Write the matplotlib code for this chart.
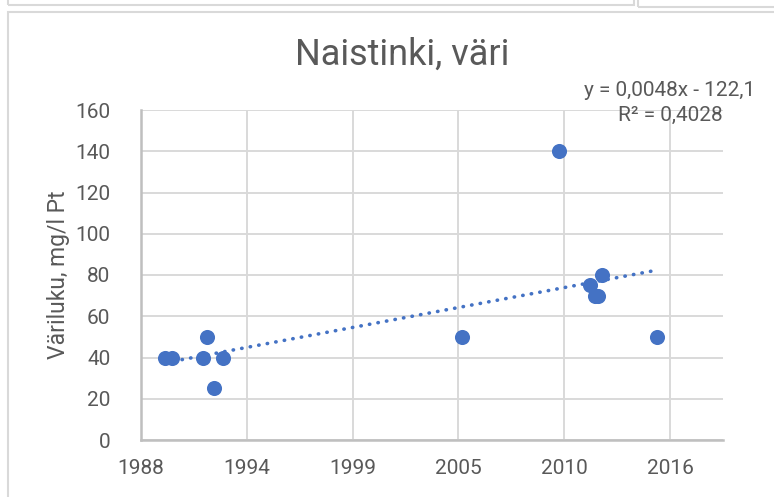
import numpy as np
import pandas as pd
import matplotlib
matplotlib.use("Agg")
import matplotlib.pyplot as plt
import matplotlib.dates as mdates
from matplotlib.patches import Rectangle

plt.rcParams['font.family'] = ['Roboto', 'DejaVu Sans']

# sample dates and colour values (mg/l Pt)
sample_dates = ['1990-03-22', '1990-07-26', '1992-03-03', '1992-05-18', '1992-10-09',
                '1993-03-28', '2005-08-10', '2010-08-16', '2012-03-20', '2012-06-20',
                '2012-08-19', '2012-11-07', '2015-09-13']
colour_values = [40, 40, 40, 50, 25, 40, 50, 140, 75, 70, 70, 80, 50]

y_ticks = [0, 20, 40, 60, 80, 100, 120, 140, 160]
equation_text = 'y = 0,0048x - 122,1'
r2_text = 'R² = 0,4028'

blue = '#4472C4'
grid_col = '#D9D9D9'
text_col = '#595959'

excel_zero = pd.Timestamp('1899-12-30')
dates = pd.to_datetime(sample_dates)
serial = np.array([(d - excel_zero).days for d in dates], dtype=float)
xnum = mdates.date2num(dates)

fig = plt.figure(figsize=(7.74, 4.97), dpi=100)

# chart frame and neighbouring chart edges (Excel screenshot look)
fig.patches.append(Rectangle((8 / 774, -0.1), 1.0, 1 - 12 / 497 + 0.1, transform=fig.transFigure,
                             fill=False, edgecolor=grid_col, linewidth=1.5))
fig.patches.append(Rectangle((8 / 774, 1 - 5 / 497), (634 - 8) / 774, 0.1, transform=fig.transFigure,
                             fill=False, edgecolor=grid_col, linewidth=1.5))
fig.patches.append(Rectangle((638 / 774, 1 - 7 / 497), 0.3, 0.1, transform=fig.transFigure,
                             fill=False, edgecolor=grid_col, linewidth=1.5))

ax = fig.add_axes([141 / 774, 1 - 440 / 497, (723 - 141) / 774, (440 - 110) / 497])

# axis range in Excel serial days: 32500 .. 43500, major unit 2000
def serial_to_num(s):
    return mdates.date2num(excel_zero + pd.Timedelta(days=s))

x_ticks = [serial_to_num(s) for s in range(32500, 43000, 2000)]
ax.set_xlim(serial_to_num(32500), serial_to_num(43500))
ax.set_xticks(x_ticks)
ax.xaxis.set_major_formatter(mdates.DateFormatter('%Y'))
ax.set_ylim(0, 160)
ax.set_yticks(y_ticks)

ax.grid(True, color=grid_col, linewidth=1.4)
ax.set_axisbelow(True)
for s in ['top', 'right']:
    ax.spines[s].set_visible(False)
for s in ['left', 'bottom']:
    ax.spines[s].set_color('#BFBFBF')
    ax.spines[s].set_linewidth(1.8)

ax.tick_params(length=0, labelsize=15, colors=text_col)
ax.tick_params(axis='y', pad=22)
ax.tick_params(axis='x', pad=14)

ax.scatter(xnum, colour_values, s=118, color=blue, zorder=3, linewidths=0)

# linear trendline (fit on Excel serial days)
slope, intercept = np.polyfit(serial, colour_values, 1)
xs = np.array([serial.min(), serial.max()])
ax.plot([serial_to_num(v) for v in xs], slope * xs + intercept, color=blue,
        linewidth=2.6, linestyle=(0, (0.1, 2.3)), dash_capstyle='round', zorder=2)

ax.set_ylabel('Väriluku, mg/l Pt', fontsize=16.5, color=text_col, labelpad=4)

fig.text(402 / 774, 1 - 55 / 497, 'Naistinki, väri', fontsize=26, color=text_col,
         ha='center', va='center')
fig.text(670 / 774, 1 - 90 / 497, equation_text, fontsize=15, color=text_col,
         ha='center', va='center')
fig.text(670 / 774, 1 - 115 / 497, r2_text, fontsize=15, color=text_col,
         ha='center', va='center')

fig.savefig('out.png', dpi=100)
